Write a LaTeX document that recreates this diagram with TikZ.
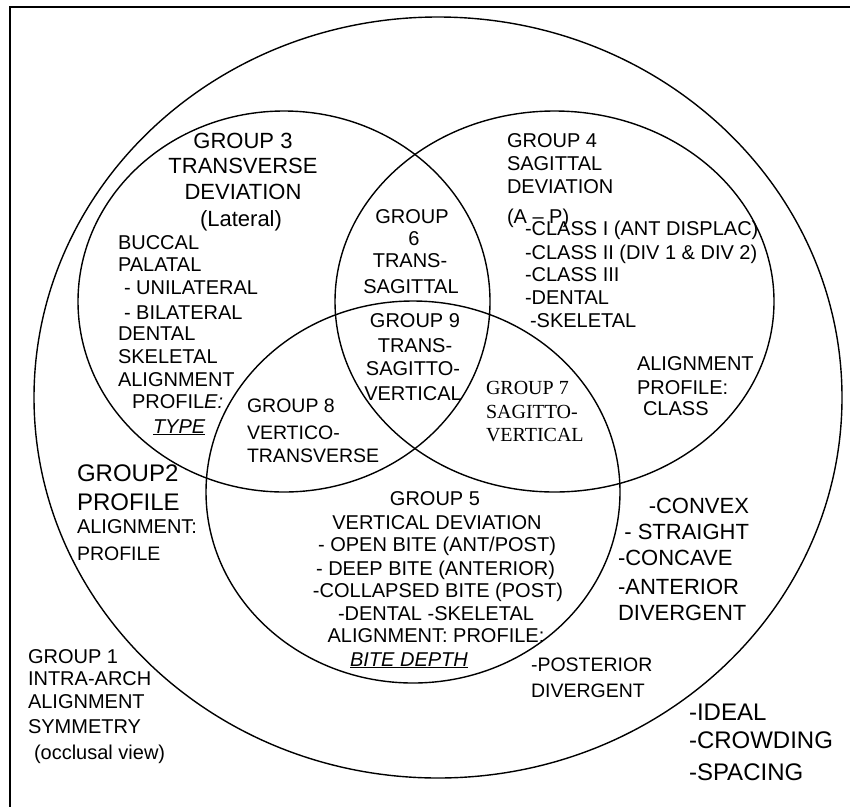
\documentclass[tikz,border=0pt]{standalone}
\usepackage{fontspec}
\setmainfont{Liberation Sans}
\newfontfamily\serifrm{Liberation Serif}
\usetikzlibrary{shapes.geometric}
\tikzset{
  ring/.style={draw, ellipse, line width=1.4pt, inner sep=0pt, outer sep=0pt},
  frameline/.style={line width=2pt},
  lbl/.style={inner sep=0pt, outer sep=0pt, font=\fontsize{20}{24}\selectfont},
  smalllbl/.style={lbl, font=\fontsize{19.5}{23}\selectfont},
  biglbl/.style={lbl, font=\fontsize{22}{26}\selectfont},
  hugelbl/.style={lbl, font=\fontsize{24}{28}\selectfont},
  seriflbl/.style={lbl, font=\serifrm\fontsize{20}{24}\selectfont},
}
\begin{document}
\begin{tikzpicture}[x=1pt, y=-1pt]
\useasboundingbox (0,0) rectangle (850,806);
\clip (0,0) rectangle (850,806);
% frame (only top and left edges visible)
\coordinate (fbl) at (9.5,812);
\coordinate (ftl) at (9.5,6.7);
\coordinate (ftr) at (856,6.7);
\draw[frameline] (fbl) -- (ftl) -- (ftr);
% circles
\node[ring, minimum width=808pt, minimum height=761pt] (c1) at (438,397.5) {};
\node[ring, minimum width=412pt, minimum height=381pt] (c3) at (284,301.5) {};
\node[ring, minimum width=439pt, minimum height=381pt] (c4) at (554.5,301.5) {};
\node[ring, minimum width=414pt, minimum height=382pt] (c5) at (413,492) {};
% group 3
\node[biglbl, anchor=base] (g3a) at (243,148) {GROUP 3};
\node[biglbl, anchor=base] (g3b) at (243,173) {TRANSVERSE};
\node[biglbl, anchor=base] (g3c) at (243,199) {DEVIATION};
\node[biglbl, anchor=base] (g3d) at (241,226) {(Lateral)};
\node[lbl, anchor=base west] (g3e) at (118,249) {BUCCAL};
\node[lbl, anchor=base west] (g3f) at (118,271) {PALATAL};
\node[lbl, anchor=base west] (g3g) at (124,294) {- UNILATERAL};
\node[lbl, anchor=base west] (g3h) at (124,319) {- BILATERAL};
\node[lbl, anchor=base west] (g3i) at (118,340) {DENTAL};
\node[lbl, anchor=base west] (g3j) at (118,363) {SKELETAL};
\node[lbl, anchor=base west] (g3k) at (118,386) {ALIGNMENT};
\node[lbl, anchor=base west] (g3l) at (132,408) {PROFIL\textit{E:}};
\node[lbl, anchor=base west] (g3m) at (153,433) {\underline{\textit{TYPE}}};
% group 6
\node[lbl, anchor=base] (g6a) at (412,223) {GROUP};
\node[lbl, anchor=base] (g6b) at (414,245) {6};
\node[lbl, anchor=base] (g6c) at (410,267) {TRANS-};
\node[lbl, anchor=base] (g6d) at (411,293) {SAGITTAL};
% group 9
\node[lbl, anchor=base] (g9a) at (415,327) {GROUP 9};
\node[lbl, anchor=base] (g9b) at (415,352) {TRANS-};
\node[lbl, anchor=base] (g9c) at (413,375) {SAGITTO-};
\node[lbl, anchor=base] (g9d) at (413,400) {VERTICAL};
% group 4
\node[lbl, anchor=base west] (g4a) at (507,147) {GROUP 4};
\node[lbl, anchor=base west] (g4b) at (507,170) {SAGITTAL};
\node[lbl, anchor=base west] (g4c) at (507,193) {DEVIATION};
\node[lbl, anchor=base west] (g4d) at (507,223) {(A – P)};
\node[lbl, anchor=base west] (g4e) at (525,235) {-CLASS I (ANT DISPLAC)};
\node[lbl, anchor=base west] (g4f) at (525,259) {-CLASS II (DIV 1 \& DIV 2)};
\node[lbl, anchor=base west] (g4g) at (525,281) {-CLASS III};
\node[lbl, anchor=base west] (g4h) at (525,304) {-DENTAL};
\node[lbl, anchor=base west] (g4i) at (530,327) {-SKELETAL};
\node[lbl, anchor=base west] (g4j) at (637,370) {ALIGNMENT};
\node[lbl, anchor=base west] (g4k) at (637,394) {PROFILE:};
\node[lbl, anchor=base west] (g4l) at (643,415) {CLASS};
% group 7
\node[seriflbl, anchor=base west] (g7a) at (486,394) {GROUP 7};
\node[seriflbl, anchor=base west] (g7b) at (486,418) {SAGITTO-};
\node[seriflbl, anchor=base west] (g7c) at (486,441) {VERTICAL};
% group 8
\node[smalllbl, anchor=base west] (g8a) at (247,412) {GROUP 8};
\node[smalllbl, anchor=base west] (g8b) at (247,439) {VERTICO-};
\node[smalllbl, anchor=base west] (g8c) at (247,462) {TRANSVERSE};
% group 5
\node[lbl, anchor=base] (g5a) at (435,505) {GROUP 5};
\node[lbl, anchor=base] (g5b) at (437,529) {VERTICAL DEVIATION};
\node[lbl, anchor=base] (g5c) at (437,551) {- OPEN BITE (ANT/POST)};
\node[lbl, anchor=base] (g5d) at (435.5,575) {- DEEP BITE (ANTERIOR)};
\node[lbl, anchor=base] (g5e) at (438,597) {-COLLAPSED BITE (POST)};
\node[lbl, anchor=base] (g5f) at (436,620) {-DENTAL -SKELETAL};
\node[lbl, anchor=base] (g5g) at (436,642) {ALIGNMENT: PROFILE:};
\node[lbl, anchor=base] (g5h) at (409,666) {\underline{\textit{BITE DEPTH}}};
% group 2
\node[hugelbl, anchor=base west] (g2a) at (77,481.5) {GROUP2};
\node[hugelbl, anchor=base west] (g2b) at (77,510.5) {PROFILE};
\node[lbl, anchor=base west] (g2c) at (77,533) {ALIGNMENT:};
\node[smalllbl, anchor=base west] (g2d) at (77,560) {PROFILE};
% profile list
\node[biglbl, anchor=base east] (p1) at (749,513) {-CONVEX};
\node[biglbl, anchor=base east] (p2) at (749,539) {- STRAIGHT};
\node[biglbl, anchor=base west] (p3) at (618,565) {-CONCAVE};
\node[biglbl, anchor=base west] (p4) at (618,594) {-ANTERIOR};
\node[biglbl, anchor=base west] (p5) at (618,620) {DIVERGENT};
\node[smalllbl, anchor=base west] (p6) at (531,671) {-POSTERIOR};
\node[smalllbl, anchor=base west] (p7) at (531,697) {DIVERGENT};
% group 1 items
\node[hugelbl, anchor=base west] (q1) at (689,720.5) {-IDEAL};
\node[hugelbl, anchor=base west] (q2) at (689,748.5) {-CROWDING};
\node[hugelbl, anchor=base west] (q3) at (689,780.5) {-SPACING};
% group 1
\node[lbl, anchor=base west] (g1a) at (28,663) {GROUP 1};
\node[lbl, anchor=base west] (g1b) at (28,685) {INTRA-ARCH};
\node[lbl, anchor=base west] (g1c) at (28,708) {ALIGNMENT};
\node[lbl, anchor=base west] (g1d) at (28,733) {SYMMETRY};
\node[lbl, anchor=base west] (g1e) at (34,759) {(occlusal view)};
\end{tikzpicture}
\end{document}
